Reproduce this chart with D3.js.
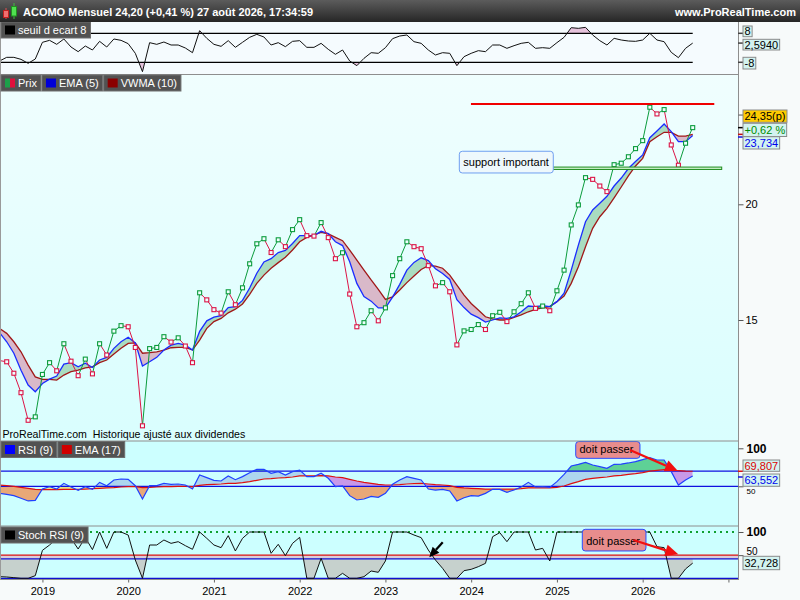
<!DOCTYPE html>
<html lang="fr">
<head>
<meta charset="utf-8">
<title>ACOMO Mensuel</title>
<script src="https://cdn.jsdelivr.net/npm/d3@7"></script>
<style>
  body { margin: 0; background: #fff; }
</style>
</head>
<body>
<div id="chart"></div>
<script>
// données mensuelles : juillet 2018 -> août 2026 (98 mois)
const prix = [
  13.56, 13.52, 13.14, 12.52, 11.69, 11.79,
  13.10, 13.49, 13.22, 14.14, 13.54, 13.06, 13.61, 13.12, 14.14, 13.75, 14.59, 14.79,
  14.75, 14.01, 11.53, 13.97, 14.01, 14.39, 14.20, 14.35, 14.06, 13.49, 16.05, 15.77,
  15.39, 15.26, 16.09, 15.58, 16.25, 17.25, 18.13, 18.36, 17.74, 18.31, 18.00, 18.78,
  19.25, 18.50, 18.48, 19.11, 18.41, 17.47, 17.73, 16.00, 14.75, 14.90, 15.35, 14.97,
  15.46, 16.75, 17.47, 18.22, 18.00, 17.91, 17.17, 16.33, 16.46, 16.09, 14.10, 14.60,
  14.65, 14.83, 14.65, 15.16, 15.29, 14.94, 15.31, 15.62, 16.05, 15.44, 15.53, 15.35,
  16.13, 16.98, 19.00, 19.97, 21.37, 21.28, 20.93, 20.64, 22.07, 22.15, 22.51, 22.97,
  23.43, 25.46, 25.04, 25.31, 23.18, 22.04, 23.28, 24.20
];
const ema5 = [
  14.54, 14.21, 13.81, 13.24, 12.76, 12.55,
  12.81, 12.95, 13.05, 13.44, 13.49, 13.35, 13.47, 13.33, 13.58, 13.67, 13.98, 14.21,
  14.37, 14.17, 13.38, 13.52, 13.67, 13.92, 14.09, 14.15, 14.09, 13.92, 14.58, 14.97,
  15.11, 15.16, 15.47, 15.51, 15.75, 16.24, 16.85, 17.33, 17.47, 17.74, 17.83, 18.14,
  18.50, 18.50, 18.50, 18.70, 18.60, 18.22, 18.05, 17.34, 16.43, 15.90, 15.72, 15.46,
  15.46, 15.88, 16.39, 16.98, 17.31, 17.51, 17.39, 17.04, 16.84, 16.59, 15.78, 15.47,
  15.22, 15.09, 14.92, 15.00, 15.08, 15.06, 15.12, 15.31, 15.53, 15.51, 15.54, 15.51,
  15.70, 16.03, 16.98, 18.07, 19.15, 19.72, 20.05, 20.40, 20.93, 21.35, 21.86, 22.25,
  22.61, 23.60, 24.00, 24.42, 23.96, 23.37, 23.37, 23.73
];
const vwma10 = [
  14.69, 14.51, 14.21, 13.86, 13.41, 13.02,
  12.94, 12.94, 12.92, 13.08, 13.19, 13.24, 13.32, 13.35, 13.49, 13.58, 13.78, 13.98,
  14.15, 14.17, 13.81, 13.83, 13.86, 13.92, 14.00, 14.01, 14.01, 13.92, 14.27, 14.69,
  14.94, 15.06, 15.27, 15.41, 15.61, 15.99, 16.43, 16.77, 17.06, 17.30, 17.53, 17.85,
  18.22, 18.42, 18.53, 18.65, 18.58, 18.42, 18.27, 17.85, 17.41, 16.98, 16.57, 16.19,
  15.79, 15.89, 16.16, 16.46, 16.73, 17.01, 17.17, 17.15, 17.06, 16.77, 16.36, 15.96,
  15.63, 15.38, 15.12, 15.04, 15.00, 15.00, 15.10, 15.19, 15.31, 15.40, 15.46, 15.51,
  15.70, 15.92, 16.43, 17.12, 18.00, 18.84, 19.39, 19.80, 20.32, 20.88, 21.46, 22.00,
  22.42, 23.37, 23.66, 23.92, 23.92, 23.70, 23.70, 23.80
];
const seuilEcart = [
  -7.28, -5.26, -5.26, -6.37, -8.57, -6.18,
  3.02, 4.12, 1.91, 4.86, 0.44, -2.13, 0.99, -1.21, 3.57, 0.44, 4.86, 4.12,
  2.28, -3.05, -13.17, 2.83, 1.91, 3.2, 1.54, 1.54, -0.11, -2.69, 9.45, 5.22,
  1.91, 0.81, 3.94, 0.26, 3.02, 5.77, 7.43, 5.96, 1.54, 2.83, 0.63, 3.57,
  3.94, 0.26, 0.26, 2.46, -0.85, -3.6, -1.21, -7.28, -9.86, -5.81, -2.69, -3.05,
  0.07, 5.04, 6.51, 7.06, 3.38, 2.46, -1.21, -3.97, -2.69, -3.05, -9.86, -4.89,
  -3.05, -1.58, -2.13, 1.54, 1.54, -0.29, 1.18, 2.46, 3.02, -0.29, 0.07, -0.29,
  2.83, 5.77, 11.1, 10.74, 11.29, 7.06, 3.94, 1.54, 5.22, 4.3, 3.75, 3.57,
  4.3, 7.98, 4.3, 3.38, -2.5, -5.44, -0.29, 2.594
];
const rsi9 = [
  40.7, 39.4, 37.7, 34.2, 30.7, 31.5,
  46.4, 49.5, 46.4, 53.9, 49.1, 44.7, 49.5, 46.0, 55.2, 50.8, 58.3, 59.6,
  59.2, 50.8, 33.3, 50.8, 50.8, 53.9, 52.6, 53.0, 51.7, 46.4, 64.9, 61.4,
  57.9, 57.0, 63.6, 58.7, 62.7, 67.9, 72.3, 72.3, 67.1, 69.3, 64.9, 69.3,
  71.4, 62.7, 62.7, 67.1, 60.5, 49.5, 50.4, 37.7, 32.0, 33.3, 36.8, 35.5,
  40.7, 52.6, 58.3, 62.7, 60.5, 58.3, 46.4, 45.1, 46.0, 43.8, 30.7, 35.0,
  37.7, 37.2, 40.7, 46.0, 46.0, 42.1, 45.1, 49.1, 55.2, 49.1, 49.5, 48.6,
  56.1, 65.7, 76.7, 78.9, 81.5, 78.0, 75.8, 73.6, 78.9, 79.3, 80.7, 82.4,
  85.0, 87.7, 84.6, 84.6, 69.3, 51.7, 58.3, 63.55
];
const emaRsi17 = [
  51.7, 50.8, 50.0, 48.6, 47.3, 46.0,
  45.6, 45.6, 45.6, 46.0, 46.0, 46.0, 46.4, 46.9, 47.3, 47.8, 48.2, 49.1,
  49.5, 49.5, 48.2, 48.6, 49.1, 49.5, 49.5, 50.0, 50.0, 49.5, 51.3, 52.1,
  52.6, 53.0, 53.9, 53.9, 54.8, 56.1, 57.9, 59.6, 60.0, 60.9, 61.4, 62.2,
  63.6, 63.6, 63.6, 64.0, 63.6, 62.2, 61.4, 59.2, 57.0, 55.2, 53.9, 52.6,
  51.7, 51.7, 52.1, 53.0, 53.5, 53.9, 53.0, 52.1, 51.7, 50.8, 48.6, 47.8,
  47.3, 46.9, 46.4, 46.4, 46.4, 46.4, 46.4, 46.9, 47.8, 47.8, 47.8, 47.8,
  48.6, 50.4, 53.5, 56.1, 59.2, 60.5, 61.4, 62.2, 63.6, 64.4, 65.7, 66.6,
  67.9, 70.0, 71.0, 72.0, 71.8, 70.5, 70.0, 69.81
];
const stochRsi9 = [
  3.5, 2.8, 1.4, 0, 0, 5.7,
  60.4, 71.9, 86.3, 100, 86.3, 63.3, 87.8, 61.9, 100, 64.7, 100, 100,
  93.5, 39.5, 0, 71.9, 71.9, 82.7, 75.5, 79.1, 70.5, 62.6, 100, 86.3,
  71.9, 66.2, 92.1, 59.0, 86.3, 100, 100, 100, 54.0, 73.4, 48.9, 75.5,
  88.5, 0, 0, 43.1, 0, 0, 10.7, 0, 0, 3.5, 15.8, 12.9,
  37.4, 100, 100, 100, 93.5, 87.8, 61.1, 39.5, 21.5, 0, 0, 16.5,
  19.4, 25.1, 32.3, 89.9, 98.6, 79.1, 100, 100, 100, 61.1, 64.7, 37.4,
  100, 100, 100, 100, 100, 93.5, 86.3, 84.1, 80.6, 75.5, 69.8, 82.7,
  100, 100, 68.3, 66.2, 0, 0, 20.2, 32.73
];
// index du mois de janvier de chaque année (0 = juillet 2018)
const moisJanvier = [6, 18, 30, 42, 54, 66, 78, 90, 102];
const anneesTicks = ["2019", "2020", "2021", "2022", "2023", "2024", "2025", "2026", ""];
const ticksPrix = [15, 20, 25];

const largeur = 800, hauteur = 600, bordDroit = 738;
const police = '"Liberation Sans", Arial, sans-serif';

const svg = d3.select("#chart").append("svg")
  .attr("width", largeur).attr("height", hauteur)
  .style("display", "block")
  .style("font-family", police)
  .style("font-size", "11px");
const defs = svg.append("defs");

// échelles
const x = d3.scaleLinear().domain([1, 97]).range([6.7, 692.7]);
const ySeuil = d3.scaleLinear().domain([-8, 8]).range([62.3, 33.3]);
const yPrix = d3.scaleLog().domain([15, 20]).range([320, 204.3]);
const yRsi = d3.scaleLinear().domain([0, 100]).range([524.3, 448.3]);
const yStoch = d3.scaleLinear().domain([0, 100]).range([578.3, 532]);

const panneaux = {
  seuil: [22, 74],
  prix: [74, 441],
  rsi: [441, 526],
  stoch: [526, 579.5],
};

function clipRect(id, y0, y1) {
  defs.append("clipPath").attr("id", id).append("rect")
    .attr("x", 0).attr("y", y0).attr("width", bordDroit).attr("height", Math.max(0, y1 - y0));
}
function clipChemin(id, d) {
  defs.append("clipPath").attr("id", id).append("path").attr("d", d);
}
function degrade(id, c0, c1) {
  const g = defs.append("linearGradient").attr("id", id)
    .attr("x1", 0).attr("y1", 0).attr("x2", 0).attr("y2", 1);
  g.append("stop").attr("offset", 0).attr("stop-color", c0);
  g.append("stop").attr("offset", 1).attr("stop-color", c1);
}

// fonds
svg.append("rect").attr("width", largeur).attr("height", hauteur).attr("fill", "#f7fafa");
degrade("fondEntete", "#5c5c5c", "#262626");
degrade("fondPrix", "#f0fefe", "#d9fefe");
const fonds = { seuil: "#f5fbfe", prix: "url(#fondPrix)", rsi: "#ccffff", stoch: "#ccffff" };
Object.entries(panneaux).forEach(([k, [y0, y1]]) => {
  svg.append("rect").attr("x", 0).attr("y", y0).attr("width", bordDroit).attr("height", y1 - y0)
    .attr("fill", fonds[k]);
  clipRect("clip-" + k, y0, y1);
});

function fleche(g, x1, y1, x2, y2, couleur, epaisseur, tete) {
  const a = Math.atan2(y2 - y1, x2 - x1);
  const bx = x2 - tete * Math.cos(a), by = y2 - tete * Math.sin(a);
  g.append("line").attr("x1", x1).attr("y1", y1).attr("x2", bx).attr("y2", by)
    .attr("stroke", couleur).attr("stroke-width", epaisseur);
  const w = tete * 0.45;
  const pts = [[x2, y2], [bx + w * Math.sin(a), by - w * Math.cos(a)], [bx - w * Math.sin(a), by + w * Math.cos(a)]];
  g.append("polygon").attr("points", pts.map((p) => p.join(",")).join(" ")).attr("fill", couleur);
}

// ---------- seuil d'écart ----------
const gS = svg.append("g").attr("clip-path", "url(#clip-seuil)");
clipRect("seuilHaut", 22, ySeuil(8));
clipRect("seuilBas", ySeuil(-8), 74);
gS.append("path").datum(seuilEcart).attr("clip-path", "url(#seuilHaut)").attr("fill", "#e6c3dc")
  .attr("d", d3.area().x((d, i) => x(i)).y0(ySeuil(8)).y1((d) => ySeuil(d)));
gS.append("path").datum(seuilEcart).attr("clip-path", "url(#seuilBas)").attr("fill", "#e6c3dc")
  .attr("d", d3.area().x((d, i) => x(i)).y0(ySeuil(-8)).y1((d) => ySeuil(d)));
[8, -8].forEach((v) => {
  gS.append("line").attr("x1", 0).attr("x2", x(97)).attr("y1", ySeuil(v)).attr("y2", ySeuil(v))
    .attr("stroke", "#000").attr("stroke-width", 1.2);
});
gS.append("path").datum(seuilEcart).attr("fill", "none").attr("stroke", "#111").attr("stroke-width", 1)
  .attr("d", d3.line().x((d, i) => x(i)).y((d) => ySeuil(d)));

// ---------- prix ----------
const gP = svg.append("g").attr("clip-path", "url(#clip-prix)");
const lignes = prix.map((p, i) => ({ i, p, e: ema5[i], w: vwma10[i] }));
clipChemin("sousEma", d3.area().x((d) => x(d.i)).y0((d) => yPrix(d.e)).y1(441)(lignes));
clipChemin("sousWma", d3.area().x((d) => x(d.i)).y0((d) => yPrix(d.w)).y1(441)(lignes));
gP.append("path").attr("d", d3.area().x((d) => x(d.i)).y0(74).y1((d) => yPrix(d.w))(lignes))
  .attr("clip-path", "url(#sousEma)").attr("fill", "#a9dcc0");
gP.append("path").attr("d", d3.area().x((d) => x(d.i)).y0(74).y1((d) => yPrix(d.e))(lignes))
  .attr("clip-path", "url(#sousWma)").attr("fill", "#d9b9c9");
gP.append("path").datum(lignes).attr("fill", "none").attr("stroke", "#a01818").attr("stroke-width", 1.3)
  .attr("d", d3.line().x((d) => x(d.i)).y((d) => yPrix(d.w)));
gP.append("path").datum(lignes).attr("fill", "none").attr("stroke", "#1a2cff").attr("stroke-width", 1.3)
  .attr("d", d3.line().x((d) => x(d.i)).y((d) => yPrix(d.e)));

const hausse = "#0b9c3c", baisse = "#dc1446";
const couleurPt = (d) => (d.p > prix[d.i - 1] ? hausse : baisse);
gP.selectAll(".seg").data(lignes.slice(1)).join("line")
  .attr("x1", (d) => x(d.i - 1)).attr("y1", (d) => yPrix(prix[d.i - 1]))
  .attr("x2", (d) => x(d.i)).attr("y2", (d) => yPrix(d.p))
  .attr("stroke", couleurPt).attr("stroke-width", 1);
gP.selectAll(".pt").data(lignes.slice(1)).join("rect")
  .attr("x", (d) => x(d.i) - 2).attr("y", (d) => yPrix(d.p) - 2)
  .attr("width", 4).attr("height", 4)
  .attr("fill", "#effefe").attr("stroke", couleurPt).attr("stroke-width", 1.1);

// résistance et support
gP.append("line").attr("x1", x(65.97)).attr("x2", x(100.02))
  .attr("y1", yPrix(25.67)).attr("y2", yPrix(25.67))
  .attr("stroke", "#f00000").attr("stroke-width", 2);
gP.append("rect").attr("x", x(75.03)).attr("y", yPrix(21.94))
  .attr("width", x(101.06) - x(75.03)).attr("height", yPrix(21.81) - yPrix(21.94))
  .attr("fill", "#c9f2c9").attr("stroke", "#1e8c1e").attr("stroke-width", 1);
gP.append("rect").attr("x", x(64.34)).attr("y", yPrix(22.82))
  .attr("width", x(77.49) - x(64.34)).attr("height", yPrix(21.62) - yPrix(22.82))
  .attr("rx", 3).attr("fill", "#eef8fc").attr("stroke", "#6f9ff0").attr("stroke-width", 1);
gP.append("text").attr("x", x(64.9)).attr("y", yPrix(22.0)).attr("fill", "#000")
  .style("font-size", "11px").text("support important");
gP.append("text").attr("x", 2.5).attr("y", 438).attr("fill", "#000")
  .attr("xml:space", "preserve").style("white-space", "pre")
  .style("font-size", "10.6px").text("ProRealTime.com  Historique ajusté aux dividendes");

// ---------- RSI ----------
const gR = svg.append("g").attr("clip-path", "url(#clip-rsi)");
const lignesRsi = rsi9.map((v, i) => ({ i, v, e: emaRsi17[i] }));
clipChemin("sousRsi", d3.area().x((d) => x(d.i)).y0((d) => yRsi(d.v)).y1(526)(lignesRsi));
clipChemin("sousEmaRsi", d3.area().x((d) => x(d.i)).y0((d) => yRsi(d.e)).y1(526)(lignesRsi));
clipRect("rsiSup70", 441, yRsi(70));
clipRect("rsi5070", yRsi(70), yRsi(50));
clipRect("rsiInf50", yRsi(50), 526);
clipRect("rsiSup50", 441, yRsi(50));
const auDessusEma = d3.area().x((d) => x(d.i)).y0(441).y1((d) => yRsi(d.e))(lignesRsi);
const auDessusRsi = d3.area().x((d) => x(d.i)).y0(441).y1((d) => yRsi(d.v))(lignesRsi);
[["rsiSup70", "#5ed196"], ["rsi5070", "#add6ee"], ["rsiInf50", "#e4e48c"]].forEach(([c, col]) => {
  gR.append("g").attr("clip-path", `url(#${c})`).append("path").attr("d", auDessusEma)
    .attr("clip-path", "url(#sousRsi)").attr("fill", col);
});
[["rsiSup50", "#c899e8"], ["rsiInf50", "#e8a877"]].forEach(([c, col]) => {
  gR.append("g").attr("clip-path", `url(#${c})`).append("path").attr("d", auDessusRsi)
    .attr("clip-path", "url(#sousEmaRsi)").attr("fill", col);
});
[70, 50].forEach((v) => {
  gR.append("line").attr("x1", 0).attr("x2", bordDroit).attr("y1", yRsi(v)).attr("y2", yRsi(v))
    .attr("stroke", "#1010e0").attr("stroke-width", 1.2);
});
gR.append("path").datum(lignesRsi).attr("fill", "none").attr("stroke", "#dd1010").attr("stroke-width", 1.2)
  .attr("d", d3.line().x((d) => x(d.i)).y((d) => yRsi(d.e)));
gR.append("path").datum(lignesRsi).attr("fill", "none").attr("stroke", "#2040ff").attr("stroke-width", 1.2)
  .attr("d", d3.line().x((d) => x(d.i)).y((d) => yRsi(d.v)));

// ---------- Stoch RSI ----------
const gT = svg.append("g").attr("clip-path", "url(#clip-stoch)");
gT.append("rect").attr("x", 0).attr("width", bordDroit).attr("y", yStoch(50))
  .attr("height", yStoch(42) - yStoch(50)).attr("fill", "#d9cdd9");
clipRect("stochBas", yStoch(42), 579.5);
gT.append("path").datum(stochRsi9).attr("clip-path", "url(#stochBas)").attr("fill", "#c6d1cd")
  .attr("d", d3.area().x((d, i) => x(i)).y0(yStoch(42)).y1((d) => yStoch(d)));
gT.append("line").attr("x1", 0).attr("x2", bordDroit).attr("y1", yStoch(100)).attr("y2", yStoch(100))
  .attr("stroke", "#10a030").attr("stroke-width", 2).attr("stroke-dasharray", "2,4");
gT.append("line").attr("x1", 0).attr("x2", bordDroit).attr("y1", yStoch(50)).attr("y2", yStoch(50))
  .attr("stroke", "#dd1010").attr("stroke-width", 1.2);
[42, 0].forEach((v) => {
  gT.append("line").attr("x1", 0).attr("x2", bordDroit).attr("y1", yStoch(v)).attr("y2", yStoch(v))
    .attr("stroke", "#1010d0").attr("stroke-width", 1.2);
});
gT.append("path").datum(stochRsi9).attr("fill", "none").attr("stroke", "#111").attr("stroke-width", 1)
  .attr("d", d3.line().x((d, i) => x(i)).y((d) => yStoch(d)));

// annotations "doit passer"
function boiteTexte(g, x0, x1, y0, y1, tx, ty) {
  g.append("rect").attr("x", x0).attr("y", y0).attr("width", x1 - x0).attr("height", y1 - y0)
    .attr("rx", 3).attr("fill", "#e88d8d").attr("stroke", "#2a4cff").attr("stroke-width", 1);
  g.append("text").attr("x", tx).attr("y", ty).attr("fill", "#000").style("font-size", "11px").text("doit passer");
}
boiteTexte(gR, x(80.63), x(89.62), yRsi(108.9), yRsi(86.8), x(81.16), yRsi(93.2));
fleche(gR, x(88.22), yRsi(97.8), x(94.94), yRsi(70.1), "#f01010", 2.2, 13);
boiteTexte(gT, x(81.55), x(90.46), yStoch(105.8), yStoch(59), x(82.1), yStoch(71.9));
fleche(gT, x(88.69), yStoch(82.7), x(94.98), yStoch(51.8), "#f01010", 2.2, 13);
fleche(gT, x(62.02), yStoch(77.8), x(60.14), yStoch(45.4), "#000", 2.2, 10);

// ---------- bordures ----------
[74.5, 441, 526, 579.5].forEach((y) => {
  svg.append("line").attr("x1", 0).attr("x2", bordDroit).attr("y1", y).attr("y2", y)
    .attr("stroke", "#8e8e8e").attr("stroke-width", 1);
});
svg.append("line").attr("x1", bordDroit + 0.5).attr("x2", bordDroit + 0.5).attr("y1", 22).attr("y2", 580)
  .attr("stroke", "#8e8e8e");
svg.append("line").attr("x1", 0.5).attr("x2", 0.5).attr("y1", 22).attr("y2", 580).attr("stroke", "#9a9a9a");

// ---------- axes ----------
const axeX = svg.append("g").attr("transform", "translate(0,579.5)")
  .call(d3.axisBottom(x).tickValues(moisJanvier).tickFormat((d, i) => anneesTicks[i]).tickSize(3).tickPadding(5));
axeX.select(".domain").remove();
axeX.selectAll("line").attr("stroke", "#666");
axeX.selectAll("text").attr("fill", "#000").style("font-size", "11px").style("font-family", police);

// l'étiquette 25 est cachée par la boîte du dernier cours : seul le repère est tracé
const axePrix = svg.append("g").attr("transform", `translate(${bordDroit + 0.5},0)`)
  .call(d3.axisRight(yPrix).tickValues(ticksPrix)
    .tickFormat((d) => (d === 25 ? "" : d3.format("d")(d))).tickSize(5).tickPadding(2));
axePrix.select(".domain").remove();
axePrix.selectAll("line").attr("stroke", "#555");
axePrix.selectAll("text").attr("fill", "#000").style("font-size", "11px").style("font-family", police);

function axeDroit(echelle, valeurs, format, taille, gras) {
  const a = svg.append("g").attr("transform", `translate(${bordDroit + 0.5},0)`)
    .call(d3.axisRight(echelle).tickValues(valeurs).tickFormat(format).tickSize(5).tickPadding(3));
  a.select(".domain").remove();
  a.selectAll("line").attr("stroke", "#555");
  a.selectAll("text").attr("fill", "#000").style("font-size", taille)
    .style("font-weight", gras ? "bold" : "normal")
    .style("font-family", police);
  return a;
}
axeDroit(yRsi, [100], d3.format("d"), "12px", true);
// le 50 du RSI dépasse sous la boîte de valeur
const r50 = axeDroit(yRsi, [50], d3.format("d"), "8px", false);
r50.selectAll("text").attr("dy", "0.95em").attr("x", 8);
axeDroit(yStoch, [100], d3.format("d"), "12px", true);
const a50 = axeDroit(yStoch, [50], d3.format("d"), "10px", false);
a50.selectAll("text").attr("dy", "-0.1em");

// repères de valeurs courantes
function repere(y, couleur) {
  svg.append("line").attr("x1", bordDroit).attr("x2", bordDroit + 5).attr("y1", y).attr("y2", y)
    .attr("stroke", couleur).attr("stroke-width", 1.5);
}
repere(yPrix(prix[97]), "#000");
repere(yPrix(vwma10[97]), "#c01010");
repere(yPrix(ema5[97]) + 1.5, "#1010e0");
repere(yRsi(emaRsi17[97]), "#dd1010");
repere(yRsi(rsi9[97]) + 1, "#1010e0");
[8, 2.594, -8].forEach((v) => repere(ySeuil(v), "#444"));

function etiquette(y0, h, texte, couleur, fond) {
  const g = svg.append("g");
  const r = g.append("rect").attr("x", bordDroit + 5).attr("y", y0).attr("height", h)
    .attr("fill", fond || "#d3f3f0").attr("stroke", "#8a8a8a").attr("stroke-width", 1);
  const t = g.append("text").attr("x", bordDroit + 6.5).attr("y", y0 + h / 2 + 4)
    .attr("fill", couleur).style("font-size", "11px").text(texte);
  r.attr("width", t.node().getComputedTextLength() + 3);
}
const fr = (v, n) => v.toFixed(n).replace(".", ",");
etiquette(26, 10.7, "8", "#000");
etiquette(39.3, 10.7, fr(seuilEcart[97], 4), "#000");
etiquette(57.3, 11.7, "-8", "#000");
etiquette(110, 12.3, "24,35(p)", "#000", "#ffcc00");
etiquette(123.3, 13.2, "+0,62 %", "#008a00");
etiquette(136.7, 12.3, fr(ema5[97] + 0.004, 3), "#0000ee");
etiquette(460, 11.3, fr(emaRsi17[97] - 0.003, 3), "#dd0000");
etiquette(474, 12.3, fr(rsi9[97] + 0.002, 3), "#0000ee");
etiquette(556.3, 13.4, fr(stochRsi9[97] - 0.002, 3), "#000");

// ---------- légendes ----------
function legende(x0, y0, items) {
  let cx = x0;
  items.forEach((it) => {
    const g = svg.append("g");
    const r = g.append("rect").attr("x", cx).attr("y", y0).attr("height", 16)
      .attr("fill", "#525252").attr("stroke", "#6e6e6e");
    if (it.couleurs.length === 2) {
      g.append("rect").attr("x", cx + 4).attr("y", y0 + 3.5).attr("width", 5).attr("height", 9).attr("fill", it.couleurs[0]);
      g.append("rect").attr("x", cx + 9).attr("y", y0 + 3.5).attr("width", 5).attr("height", 9).attr("fill", it.couleurs[1]);
    } else {
      g.append("rect").attr("x", cx + 4).attr("y", y0 + 3.5).attr("width", 10).attr("height", 9).attr("fill", it.couleurs[0]);
    }
    const t = g.append("text").attr("x", cx + 17).attr("y", y0 + 12).attr("fill", "#fff")
      .style("font-size", "11px").text(it.label);
    const w = t.node().getComputedTextLength() + 21;
    r.attr("width", w);
    cx += w + 1;
  });
}
legende(1, 22, [{ label: "seuil d ecart 8", couleurs: ["#000"] }]);
legende(1, 75, [
  { label: "Prix", couleurs: ["#1ca04a", "#e0103c"] },
  { label: "EMA (5)", couleurs: ["#0000d8"] },
  { label: "VWMA (10)", couleurs: ["#8b0000"] },
]);
legende(1, 441.5, [
  { label: "RSI (9)", couleurs: ["#0000ff"] },
  { label: "EMA (17)", couleurs: ["#d00000"] },
]);
legende(1, 527, [{ label: "Stoch RSI (9)", couleurs: ["#000"] }]);

// ---------- en-tête ----------
svg.append("rect").attr("width", largeur).attr("height", 22).attr("fill", "url(#fondEntete)");
svg.append("line").attr("x1", 6).attr("x2", 6).attr("y1", 8).attr("y2", 19).attr("stroke", "#e05050");
svg.append("rect").attr("x", 3.5).attr("y", 10.5).attr("width", 5).attr("height", 7).attr("fill", "#f07070").attr("stroke", "#c02020");
svg.append("line").attr("x1", 14).attr("x2", 14).attr("y1", 3).attr("y2", 19).attr("stroke", "#40c040");
svg.append("rect").attr("x", 11.5).attr("y", 6.5).attr("width", 5).attr("height", 9.5).attr("fill", "#50e050").attr("stroke", "#209020");
svg.append("text").attr("x", 23).attr("y", 15.5).attr("fill", "#fff")
  .style("font-size", "11px").style("font-weight", "bold")
  .text("ACOMO Mensuel 24,20 (+0,41 %) 27 août 2026, 17:34:59");
svg.append("text").attr("x", 796).attr("y", 15.5).attr("fill", "#fff").attr("text-anchor", "end")
  .style("font-size", "11px").style("font-weight", "bold")
  .text("www.ProRealTime.com");
</script>
</body>
</html>
